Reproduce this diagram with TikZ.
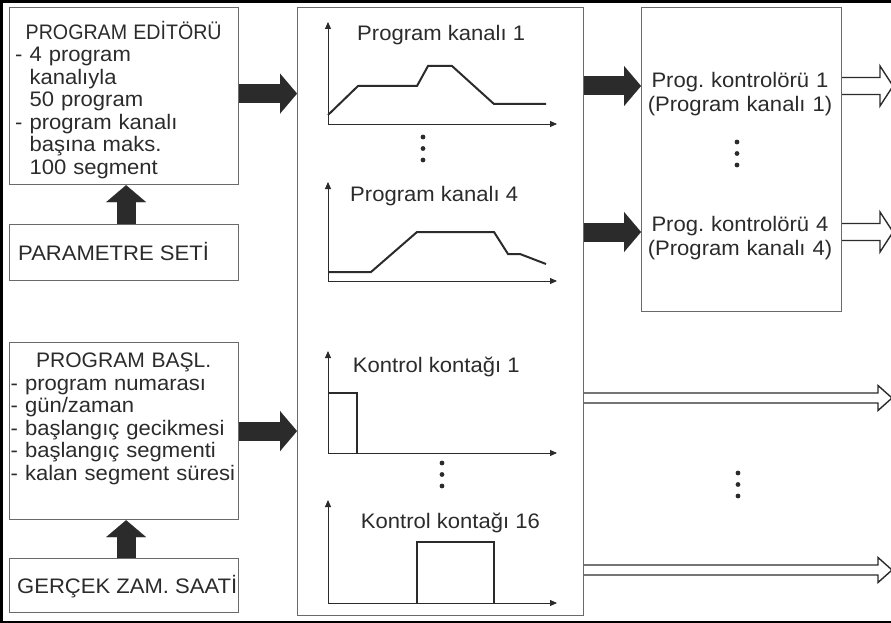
\documentclass[tikz,border=0pt]{standalone}
\usepackage{graphicx}
\usepackage{fontspec}
\setmainfont{Liberation Sans}[FakeStretch=1.05]
\frenchspacing
\usetikzlibrary{arrows.meta,calc}
\definecolor{ink}{HTML}{2B2B2B}
\definecolor{edge}{HTML}{6A6A6A}

\begin{document}
\begin{tikzpicture}[x=1pt,y=-1pt,
  txt/.style={font=\fontsize{21}{22.5}\selectfont, text=ink, inner sep=0pt},
  box/.style={draw=edge, line width=1.2pt, anchor=north west, inner sep=0pt},
  fat/.style={draw=ink, line width=19pt,
    -{Triangle[width=40pt,length=17pt,line width=0.01pt]}},
  hollow/.style n args={3}{draw=ink, line width=1.4pt, line join=miter,
    to path={($(\tikztostart)+(0,-#1)$) -- ($(\tikztotarget)+(-#3,-#1)$)
      -- ($(\tikztotarget)+(-#3,-#2)$) -- (\tikztotarget)
      -- ($(\tikztotarget)+(-#3,#2)$) -- ($(\tikztotarget)+(-#3,#1)$)
      -- ($(\tikztostart)+(0,#1)$)}},
  axis/.style={draw=ink, line width=0.9pt, -{Triangle[length=7pt,width=6pt]}},
  curve/.style={draw=ink, line width=2pt, line join=miter},
  title/.style={txt, anchor=base west},
  label/.style={txt, font=\fontsize{21}{24}\selectfont, text width=200pt, align=center, anchor=base}
]
\useasboundingbox (0,0) rectangle (891,623);

% outer frame, open on the right
\draw[black, line width=2.6pt] (891,1.3) -- (1.3,1.3) -- (1.3,622) -- (891,622);

% left column boxes
\node[box, minimum width=229pt, minimum height=177pt] (ed) at (9,7) {};
\node[box, minimum width=229pt, minimum height=56pt] (pm) at (9,224) {};
\node[box, minimum width=229pt, minimum height=177pt] (bs) at (9,342) {};
\node[box, minimum width=229pt, minimum height=54pt] (rt) at (9,558) {};

\node[txt, text width=217pt, align=left, anchor=base west] (edT) at (15,39.5)
  {\makebox[\linewidth][c]{\scalebox{0.89}[1]{PROGRAM EDİTÖRÜ}}\\
   - 4 program\\
   \phantom{- }kanalıyla\\
   \phantom{- }50 program\\
   - program kanalı\\
   \phantom{- }başına maks.\\
   \phantom{- }100 segment};
\node[title] (pmT) at (18,260.5) {PARAMETRE SETİ};
\node[txt, text width=226pt, align=left, anchor=base west] (bsT) at (10.5,367.5)
  {\makebox[\linewidth][c]{\scalebox{0.955}[1]{PROGRAM BAŞL.}}\\
   - program numarası\\
   - gün/zaman\\
   - başlangıç gecikmesi\\
   - başlangıç segmenti\\
   - kalan segment süresi};
\node[title] (rtT) at (17,593.5) {GERÇEK ZAM. SAATİ};

% middle and right frames
\node[box, minimum width=286pt, minimum height=608pt] (mid) at (297,7) {};
\node[box, minimum width=200pt, minimum height=304pt] (ctl) at (641,7) {};

% channel profiles
\node[title] (g1) at (357,40.7) {Program kanalı 1};
\draw[axis] (328,124) -- (328,22);
\draw[axis] (328,124) -- (557,124);
\draw[curve] (328,115) -- (358,86) -- (417,86) -- (428,66) -- (452,66) -- (494,104) -- (546,104);

\node[title] (g4) at (350,201) {Program kanalı 4};
\draw[axis] (328,281) -- (328,182);
\draw[axis] (328,281) -- (557,281);
\draw[curve] (328,272) -- (371,272) -- (417,232) -- (494,232) -- (508,254) -- (520,254) -- (546,264);

% control contacts
\node[title] (k1) at (352.7,372.7) {Kontrol kontağı 1};
\draw[axis] (328,453) -- (328,351);
\draw[axis] (328,453) -- (557,453);
\draw[curve] (328,393) -- (357,393) -- (357,453);

\node[title] (k16) at (360.7,528.3) {Kontrol kontağı 16};
\draw[axis] (328,603) -- (328,500);
\draw[axis] (328,603) -- (557,603);
\draw[curve] (417,603) -- (417,542) -- (494,542) -- (494,603);

% controllers
\node[label] (c1) at (740,87.7) {Prog. kontrolörü 1\\(Program kanalı 1)};
\node[label] (c4) at (740,231) {Prog. kontrolörü 4\\(Program kanalı 4)};

% ellipsis dots
\foreach \x/\y in {423/137, 442/463, 737/142, 738/473}
  \foreach \d in {0,11.5,23}
    \fill[ink] (\x,\y+\d) circle[radius=2.4pt];

% block arrows
\coordinate (a1) at ([yshift=2.5pt]ed.east);
\draw[fat] (a1) -- (a1 -| mid.west);
\draw[fat] (bs.east) -- (bs.east -| mid.west);
\draw[fat] ([xshift=2pt]pm.north) -- ([xshift=2pt]ed.south);
\draw[fat] ([xshift=2pt]rt.north) -- ([xshift=2pt]bs.south);
\coordinate (b1) at (mid.east |- 0,86);
\coordinate (b4) at (mid.east |- 0,232);
\draw[fat] (b1) -- (b1 -| ctl.west);
\draw[fat] (b4) -- (b4 -| ctl.west);

% outputs
\coordinate (o1s) at (b1 -| ctl.east);
\coordinate (o1e) at (893,86);
\coordinate (o4s) at (b4 -| ctl.east);
\coordinate (o4e) at (893,232);
\draw[hollow={8.5}{20}{13}] (o1s) to (o1e);
\draw[hollow={8.5}{20}{13}] (o4s) to (o4e);
\coordinate (k1s) at (mid.east |- 0,398);
\coordinate (k1e) at (892,398);
\coordinate (k16s) at (mid.east |- 0,570);
\coordinate (k16e) at (892,570);
\draw[hollow={5}{12.5}{14}] (k1s) to (k1e);
\draw[hollow={5}{12.5}{14}] (k16s) to (k16e);
\end{tikzpicture}
\end{document}
